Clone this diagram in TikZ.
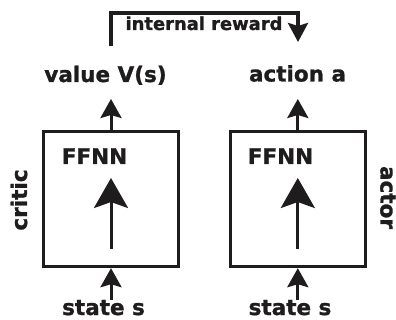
\documentclass[tikz,border=0pt]{standalone}
\usepackage{fontspec}
\setmainfont{DejaVu Sans}[BoldFeatures={FakeBold=1.2}]
\usetikzlibrary{arrows.meta}
\definecolor{ink}{HTML}{1E1C1D}
\begin{document}
\begin{tikzpicture}[x=1pt,y=-1pt,
  lbl/.style={font=\bfseries\fontsize{21.5}{24}\selectfont, text=ink, inner sep=0pt, anchor=base},
  smalllbl/.style={font=\bfseries\fontsize{17.9}{20}\selectfont, text=ink, inner sep=0pt, anchor=base},
  netbox/.style={draw=ink, line width=3pt, minimum width=135.5pt, minimum height=135pt, inner sep=0pt},
  smallarrow/.style={draw=ink, line width=3pt, -{Stealth[length=19pt,width=21pt,inset=3pt]}},
  bigarrow/.style={draw=ink, line width=3pt, -{Stealth[length=30pt,width=34pt,inset=6pt]}},
  bracket/.style={draw=ink, line width=3.5pt, line join=miter, -{Stealth[length=19pt,width=20pt,inset=3pt]}}
]
\useasboundingbox (0,0) rectangle (396,320);

% boxes
\node[netbox] (cbox) at (111,199.2) {};
\node[netbox] (abox) at (297.8,199.2) {};

% labels
\node[lbl] (val) at (105.5,82) {value V(s)};
\node[lbl] (act) at (297.5,81.5) {action a};
\node[lbl] (cin) at (103.5,315) {state s};
\node[lbl] (ain) at (290,315) {state s};
\node[lbl] (cff) at (94.5,164) {FFNN};
\node[lbl] (aff) at (280.5,164) {FFNN};
\node[lbl, rotate=90] (crit) at (27,200) {critic};
\node[lbl, rotate=-90] (acto) at (380.5,197.5) {actor};
\node[smalllbl] (rew) at (204,30) {internal reward};

% coordinates
\coordinate (vtip) at (111,99);
\coordinate (atip) at (297.8,99);
\coordinate (cbot) at (111,300);
\coordinate (abot) at (297.8,300);
\coordinate (cinS) at (111,249);
\coordinate (cinT) at (111,178);
\coordinate (ainS) at (297.8,249);
\coordinate (ainT) at (297.8,178);
\coordinate (rS) at (111,46);
\coordinate (rL) at (111,13);
\coordinate (rR) at (298,13);
\coordinate (rT) at (298,42);

% connectors
\draw[smallarrow] (cbox.north) -- (vtip);
\draw[smallarrow] (abox.north) -- (atip);
\draw[smallarrow] (cbot) -- (cbox.south);
\draw[smallarrow] (abot) -- (abox.south);
\draw[bigarrow] (cinS) -- (cinT);
\draw[bigarrow] (ainS) -- (ainT);
\draw[bracket] (rS) -- (rL) -- (rR) -- (rT);
\end{tikzpicture}
\end{document}
